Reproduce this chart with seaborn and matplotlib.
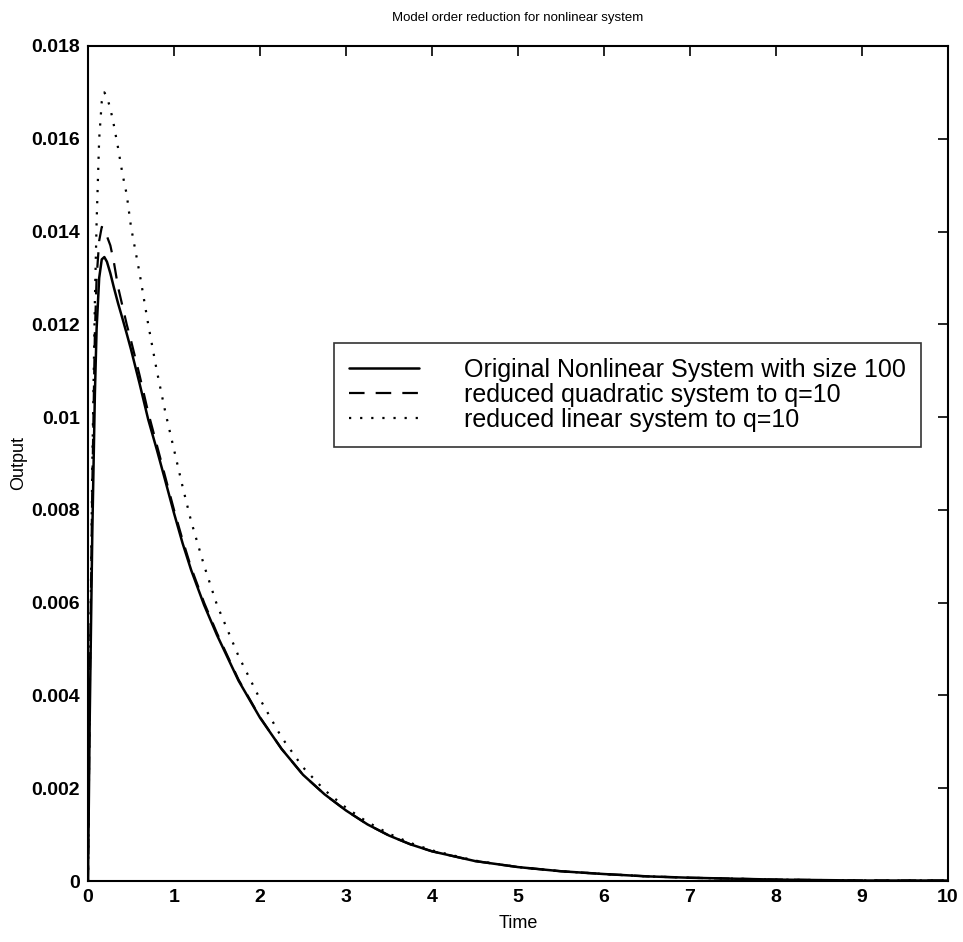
import numpy as np
import pandas as pd
import matplotlib
matplotlib.use("Agg")
import matplotlib.pyplot as plt
import seaborn as sns

time = [0, 0.02, 0.05, 0.08, 0.1, 0.13, 0.16, 0.19, 0.22, 0.26, 0.3, 0.35, 0.4, 0.45, 0.5,
        0.6, 0.7, 0.8, 0.9, 1.0, 1.1, 1.2, 1.35, 1.5, 1.75, 2.0, 2.25, 2.5, 2.75, 3.0,
        3.25, 3.5, 3.75, 4.0, 4.5, 5.0, 5.5, 6.0, 6.5, 7.0, 7.5, 8.0, 9.0, 10.0]

original = [0, 0.0035, 0.0075, 0.0105, 0.0119, 0.0130, 0.01340, 0.01345, 0.01335, 0.0131, 0.0128,
            0.01245, 0.01213, 0.0118, 0.01146, 0.01072, 0.00995, 0.0093, 0.00862, 0.00793,
            0.00728, 0.0067, 0.00595, 0.0053, 0.00432, 0.00352, 0.00285, 0.00229, 0.00187,
            0.00152, 0.00122, 0.00098, 0.00079, 0.00064, 0.00043, 0.00030, 0.00021, 0.00015,
            0.00010, 0.00007, 0.00005, 0.00003, 0.00001, 0.00001]

quadratic = [0, 0.0040, 0.0085, 0.0118, 0.0130, 0.0138, 0.01410, 0.01405, 0.0139, 0.0137, 0.01335,
             0.0128, 0.0124, 0.0120, 0.01165, 0.0109, 0.0101, 0.0094, 0.0087, 0.0080,
             0.00735, 0.00675, 0.0060, 0.00534, 0.00434, 0.00353, 0.00285, 0.00229, 0.00187,
             0.00152, 0.00122, 0.00098, 0.00079, 0.00064, 0.00043, 0.00030, 0.00021, 0.00015,
             0.00010, 0.00007, 0.00005, 0.00003, 0.00001, 0.00001]

linear = [0, 0.0040, 0.0090, 0.0125, 0.0142, 0.0160, 0.0168, 0.0170, 0.0169, 0.01665, 0.0163,
          0.0158, 0.01525, 0.0148, 0.0141, 0.0131, 0.0120, 0.0110, 0.0101, 0.0093,
          0.0085, 0.00775, 0.0068, 0.00595, 0.00485, 0.00392, 0.0031, 0.00245, 0.00196,
          0.00158, 0.00127, 0.00102, 0.00082, 0.00066, 0.00044, 0.00030, 0.00021, 0.00015,
          0.00010, 0.00007, 0.00005, 0.00003, 0.00001, 0.00001]

labels = ["Original Nonlinear System with size 100",
          "reduced quadratic system to q=10",
          "reduced linear system to q=10"]

x_ticks = [0, 1, 2, 3, 4, 5, 6, 7, 8, 9, 10]
y_ticks = [0, 0.002, 0.004, 0.006, 0.008, 0.01, 0.012, 0.014, 0.016, 0.018]
y_ticklabels = ["0", "0.002", "0.004", "0.006", "0.008", "0.01", "0.012", "0.014", "0.016", "0.018"]

sns.set_style("white")
plt.rcParams["font.family"] = ["Liberation Sans", "DejaVu Sans"]

fig = plt.figure(figsize=(9.63, 9.42), dpi=100)
ax = fig.add_axes([88 / 963, 1 - 881 / 942, 860 / 963, 835 / 942])

df = pd.DataFrame({"Time": time, "orig": original, "quad": quadratic, "lin": linear})

sns.lineplot(data=df, x="Time", y="orig", ax=ax, color="black", lw=1.8,
             label=labels[0], estimator=None, sort=False)
sns.lineplot(data=df, x="Time", y="quad", ax=ax, color="black", lw=1.6,
             label=labels[1], estimator=None, sort=False)
sns.lineplot(data=df, x="Time", y="lin", ax=ax, color="black", lw=1.6,
             label=labels[2], estimator=None, sort=False)
lines = ax.get_lines()
lines[1].set_linestyle((0, (7, 5)))
lines[2].set_linestyle((0, (1, 4)))

ax.set_xlim(0, 10)
ax.set_ylim(0, 0.018)
ax.set_xticks(x_ticks)
ax.set_yticks(y_ticks)
ax.set_yticklabels(y_ticklabels)
ax.tick_params(direction="in", length=7, width=1.2, top=True, right=True,
               labelsize=14, pad=6, colors="black")
for lab in ax.get_xticklabels() + ax.get_yticklabels():
    lab.set_fontweight("bold")
for s in ax.spines.values():
    s.set_color("black")
    s.set_linewidth(1.5)

ax.set_xlabel("Time", fontsize=13, labelpad=6, color="black")
ax.set_ylabel("Output", fontsize=13, labelpad=3, color="black")
ax.set_title("Model order reduction for nonlinear system", fontsize=9.5, pad=18, color="black")

leg = ax.legend(loc="upper left", bbox_to_anchor=((334 - 88) / 860, (881 - 343) / 835),
                fontsize=18, frameon=True, fancybox=False, handlelength=2.8,
                handletextpad=1.8, borderpad=0.6, labelspacing=0.03, borderaxespad=0)
leg.get_frame().set_edgecolor("black")
leg.get_frame().set_linewidth(1.2)
for h in leg.get_lines():
    h.set_color("black")
for t in leg.get_texts():
    t.set_color("black")

fig.savefig("out.png", dpi=100)
